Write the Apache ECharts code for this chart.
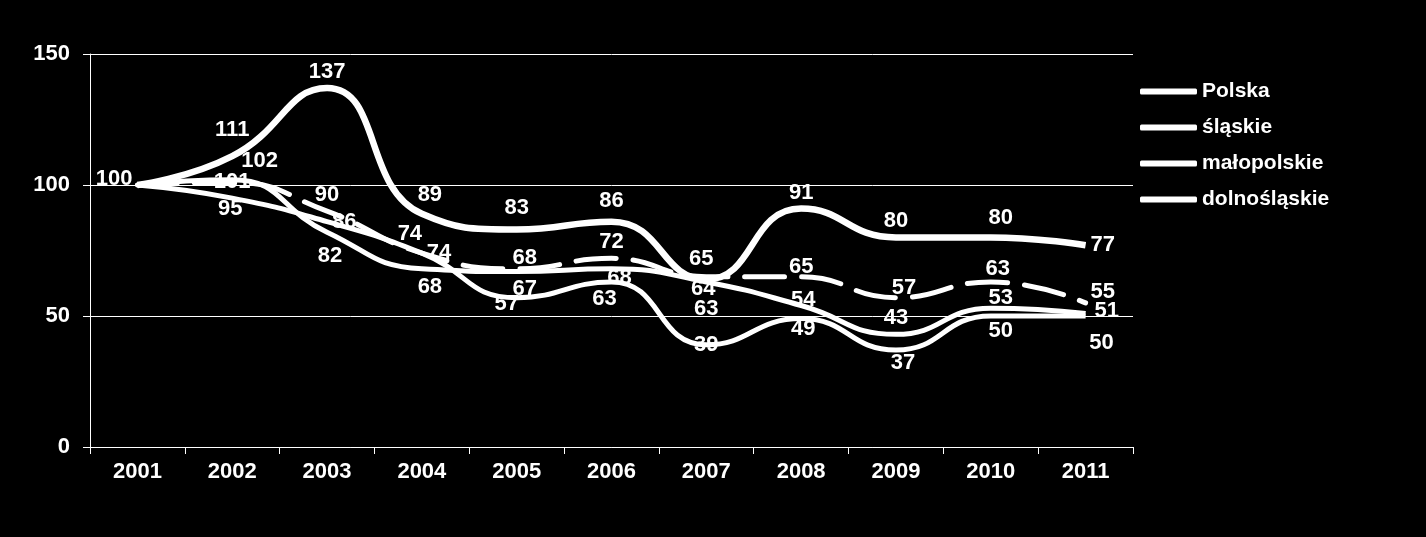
<!DOCTYPE html>
<html>
<head>
<meta charset="utf-8">
<script src="https://cdn.jsdelivr.net/npm/echarts@6/dist/echarts.min.js"></script>
<style>
html,body{margin:0;padding:0;background:#000;}
#c{width:1426px;height:537px;}
</style>
</head>
<body>
<div id="c"></div>
<script>
const categories = ['2001','2002','2003','2004','2005','2006','2007','2008','2009','2010','2011'];
const seriesNames = ['Polska','śląskie','małopolskie','dolnośląskie'];
const polska       = [100, 101, 90, 74, 68, 72, 65, 65, 57, 63, 55];
const slaskie      = [100, 111, 137, 89, 83, 86, 64, 91, 80, 80, 77];
const malopolskie  = [100, 102, 82, 68, 67, 68, 63, 54, 43, 53, 51];
const dolnoslaskie = [100, 95, 86, 74, 57, 63, 39, 49, 37, 50, 50];
const yTicks = [0, 50, 100, 150];

// label placement (kept separate from the values)
const polskaPos       = [null,'inside','top','top','top','top','top','top','top','top','right'];
const slaskiePos      = ['left','top','top','top','top','top','bottom','top','top','top','right'];
const malopolskiePos  = [null,'right','bottom','bottom','bottom','bottom','bottom','inside','top','top','right'];
const dolnoslaskiePos = [null,'bottom','right','right','bottom','bottom','inside','bottom','bottom','bottom','bottom'];
const nudges = {
  polska: {3:[-12,-3], 4:[8,5], 6:[-5,-2], 7:[0,6], 8:[8,6], 9:[7,3], 10:[0,-11]},
  slaskie: {0:[0,-6], 1:[0,-10], 3:[8,-3], 4:[0,-6], 5:[0,-5], 6:[-3,-6], 9:[10,-3]},
  malopolskie: {1:[4,-19], 2:[3,8], 3:[8,2], 4:[8,1], 5:[8,-7], 6:[0,11], 7:[2,-6], 9:[10,6], 10:[4,-2]},
  dolnoslaskie: {1:[-2,-5], 4:[-10,-10], 5:[-7,1], 7:[2,-6], 8:[7,-3], 9:[10,-1], 10:[16,11]}
};

const FONT = '"Liberation Sans", Arial, sans-serif';

function build(values, pos, nudge) {
  return values.map((v, i) => ({
    value: v,
    label: {
      show: pos[i] !== null,
      position: pos[i] || 'top',
      offset: nudge[i] || [0, 0]
    }
  }));
}

function lineSeries(name, values, pos, nudge, width, type) {
  const ls = { color: '#fff', width: width, type: type };
  if (type !== 'solid') ls.cap = 'round';
  return {
    name: name,
    type: 'line',
    smooth: 0.5,
    symbol: 'circle',
    symbolSize: 0,
    showAllSymbol: true,
    data: build(values, pos, nudge),
    itemStyle: { color: '#fff' },
    lineStyle: ls,
    label: { color: '#fff', fontFamily: FONT, fontWeight: 'bold', fontSize: 22, distance: 5 },
    emphasis: { disabled: true },
    animation: false
  };
}

const chart = echarts.init(document.getElementById('c'));
chart.setOption({
  backgroundColor: '#000',
  animation: false,
  grid: { left: 90, right: 293, top: 54, bottom: 90 },
  legend: {
    orient: 'vertical',
    left: 1135,
    top: 76,
    itemWidth: 57,
    itemHeight: 6,
    itemGap: 15,
    icon: 'roundRect',
    itemStyle: { color: '#fff', borderWidth: 0 },
    textStyle: { color: '#fff', fontFamily: FONT, fontWeight: 'bold', fontSize: 21 },
    data: seriesNames
  },
  xAxis: {
    type: 'category',
    data: categories,
    boundaryGap: true,
    axisLine: { lineStyle: { color: '#fff', width: 1 } },
    axisTick: { show: true, alignWithLabel: false, length: 7, lineStyle: { color: '#fff' } },
    axisLabel: { color: '#fff', fontFamily: FONT, fontWeight: 'bold', fontSize: 22, margin: 14 }
  },
  yAxis: {
    type: 'value',
    min: yTicks[0],
    max: yTicks[yTicks.length - 1],
    interval: yTicks[1] - yTicks[0],
    axisLine: { show: true, lineStyle: { color: '#fff', width: 1 } },
    axisTick: { show: true, length: 7, lineStyle: { color: '#fff' } },
    splitLine: { show: true, lineStyle: { color: '#fff', width: 1 } },
    axisLabel: { color: '#fff', fontFamily: FONT, fontWeight: 'bold', fontSize: 22, margin: 20 }
  },
  series: [
    lineSeries(seriesNames[0], polska, polskaPos, nudges.polska, 5, [40, 17]),
    lineSeries(seriesNames[1], slaskie, slaskiePos, nudges.slaskie, 6.5, 'solid'),
    lineSeries(seriesNames[2], malopolskie, malopolskiePos, nudges.malopolskie, 5, 'solid'),
    lineSeries(seriesNames[3], dolnoslaskie, dolnoslaskiePos, nudges.dolnoslaskie, 5, 'solid')
  ]
});
</script>
</body>
</html>
